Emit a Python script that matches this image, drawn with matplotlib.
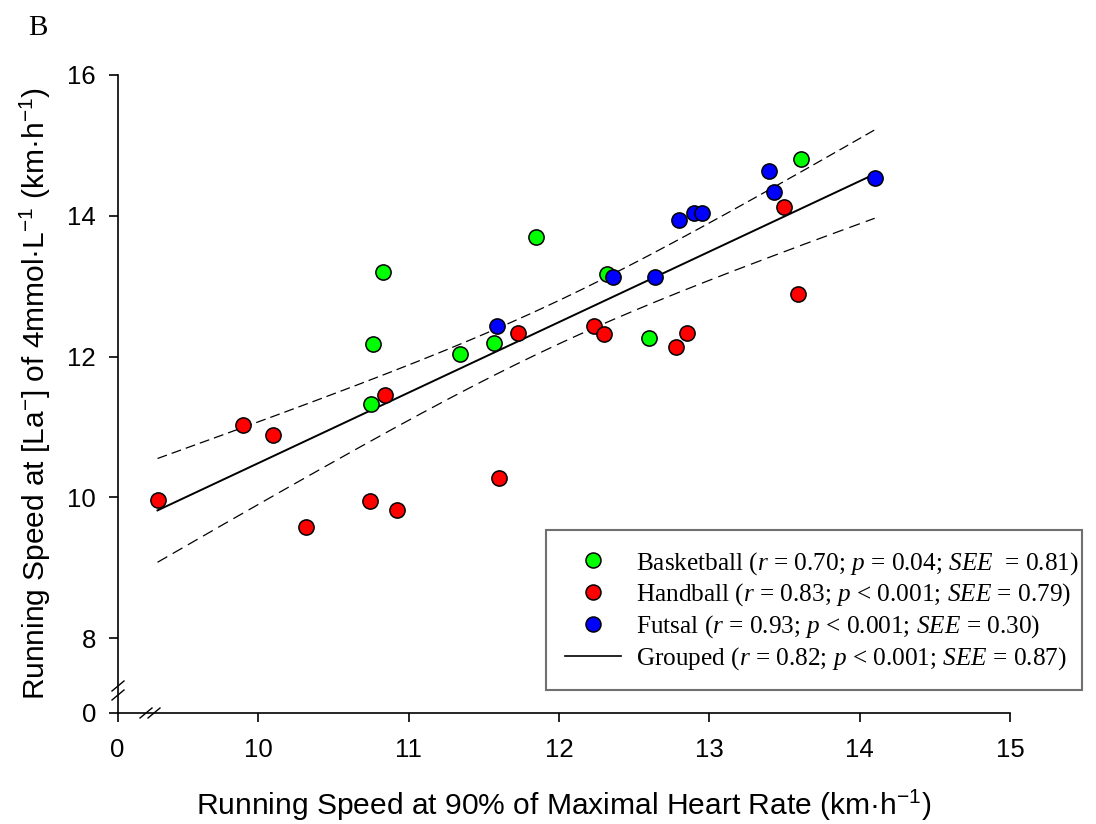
import numpy as np
import matplotlib
matplotlib.use("Agg")
import matplotlib.pyplot as plt
from matplotlib.lines import Line2D
from matplotlib.patches import Rectangle

# ---------------- data ----------------
basket_x = [13.61, 11.85, 10.83, 12.32, 10.76, 11.34, 11.57, 12.60, 10.75]
basket_y = [14.81, 13.70, 13.20, 13.18, 12.18, 12.03, 12.20, 12.27, 11.32]

hand_x = [9.90, 10.10, 9.33, 10.32, 10.74, 10.92, 10.84, 11.60, 11.73,
          12.23, 12.30, 12.78, 12.85, 13.50, 13.59]
hand_y = [11.03, 10.89, 9.97, 9.58, 9.95, 9.82, 11.46, 10.28, 12.34,
          12.44, 12.32, 12.13, 12.34, 14.13, 12.89]

futsal_x = [11.59, 12.36, 12.64, 12.80, 12.90, 12.95, 13.40, 13.43, 14.10]
futsal_y = [12.43, 13.13, 13.13, 13.94, 14.04, 14.04, 14.64, 14.34, 14.53]

x_ticks = [10, 11, 12, 13, 14, 15]
y_ticks = [8, 10, 12, 14, 16]

legend_labels = [
    r"Basketball ($r$ = 0.70; $p$ = 0.04; $SEE$  = 0.81)",
    r"Handball ($r$ = 0.83; $p$ < 0.001; $SEE$ = 0.79)",
    r"Futsal ($r$ = 0.93; $p$ < 0.001; $SEE$ = 0.30)",
    r"Grouped ($r$ = 0.82; $p$ < 0.001; $SEE$ = 0.87)",
]

# ---------------- style ----------------
plt.rcParams['mathtext.fontset'] = 'custom'
plt.rcParams['mathtext.rm'] = 'Liberation Serif'
plt.rcParams['mathtext.it'] = 'Liberation Serif:italic'
plt.rcParams['mathtext.bf'] = 'Liberation Serif:bold'

W, H = 1096, 824
fig = plt.figure(figsize=(W / 100, H / 100), dpi=100)

def fx(px):
    return px / W

def fy(py):
    return 1 - py / H

ax = fig.add_axes([fx(117.5), fy(712.7), fx(1010) - fx(117.5), fy(75) - fy(712.7)])

# broken-axis positions for the "0" ticks
x0_pos = 10 + (117.5 - 258.3) / 150.4
y0_pos = 16 - (712.7 - 75) / 70.4
ax.set_xlim(x0_pos, 15)
ax.set_ylim(y0_pos, 16)

# regression with 95% confidence band
all_x = np.array(basket_x + hand_x + futsal_x)
all_y = np.array(basket_y + hand_y + futsal_y)
n = len(all_x)
b1, b0 = np.polyfit(all_x, all_y, 1)
resid = all_y - (b0 + b1 * all_x)
s = np.sqrt(np.sum(resid ** 2) / (n - 2))
xbar = all_x.mean()
sxx = np.sum((all_x - xbar) ** 2)
t_crit = 2.04
xs = np.linspace(all_x.min(), all_x.max(), 200)
ys = b0 + b1 * xs
half = t_crit * s * np.sqrt(1 / n + (xs - xbar) ** 2 / sxx)

ax.plot(xs, ys, color='black', lw=1.4, zorder=2)
ax.plot(xs, ys + half, color='black', lw=0.9, dashes=(8, 4), zorder=2)
ax.plot(xs, ys - half, color='black', lw=0.9, dashes=(9, 5), zorder=2)

ms = 120
ax.scatter(basket_x, basket_y, s=ms, c='#00FF00', edgecolors='black', linewidths=1.1, zorder=3)
ax.scatter(hand_x, hand_y, s=ms, c='#FF0000', edgecolors='black', linewidths=1.1, zorder=3)
ax.scatter(futsal_x, futsal_y, s=ms, c='#0000FF', edgecolors='black', linewidths=1.1, zorder=3)

# axes styling
for side in ['top', 'right']:
    ax.spines[side].set_visible(False)
for side in ['left', 'bottom']:
    ax.spines[side].set_linewidth(1.2)

ax.set_xticks([x0_pos] + x_ticks)
ax.set_xticklabels(['0'] + [str(v) for v in x_ticks])
ax.set_yticks([y0_pos] + y_ticks)
ax.set_yticklabels(['0'] + [str(v) for v in y_ticks])
ax.tick_params(direction='out', length=6.5, width=1.2, labelsize=18.5)
ax.tick_params(axis='x', pad=12)
ax.tick_params(axis='y', pad=9)
for lab in ax.get_xticklabels() + ax.get_yticklabels():
    lab.set_family('Liberation Sans')

ax.set_xlabel(r"Running Speed at 90% of Maximal Heart Rate (km·h$\mathregular{^{-1}}$)",
              fontsize=21.6, family='Liberation Sans', labelpad=18)
ax.set_ylabel(r"Running Speed at [La$\mathregular{^{-}}$] of 4mmol·L$\mathregular{^{-1}}$ (km·h$\mathregular{^{-1}}$)",
              fontsize=21.5, family='Liberation Sans', labelpad=10)

# break marks
def slash(cx, cy, dx=6, dy=5):
    fig.add_artist(Line2D([fx(cx - dx), fx(cx + dx)], [fy(cy + dy), fy(cy - dy)],
                          color='black', lw=1.0))

slash(118, 686)
slash(118, 695)
slash(146, 713)
slash(154, 713)

# legend
mk = dict(marker='o', ls='none', markersize=10.8, markeredgecolor='black', markeredgewidth=1.1)
handles = [
    Line2D([], [], markerfacecolor='#00FF00', **mk),
    Line2D([], [], markerfacecolor='#FF0000', **mk),
    Line2D([], [], markerfacecolor='#0000FF', **mk),
    Line2D([], [], color='black', lw=1.2),
]
leg = fig.legend(handles, legend_labels, loc='center left',
                 bbox_to_anchor=(fx(565), fy(611)), bbox_transform=fig.transFigure,
                 prop={'family': 'Liberation Serif', 'size': 18.2},
                 frameon=False, borderaxespad=0, borderpad=0,
                 handlelength=2.2, handletextpad=0.6, labelspacing=0.2)
fig.add_artist(Rectangle((fx(546), fy(690)), fx(1082) - fx(546), fy(530) - fy(690),
                         transform=fig.transFigure, fill=False,
                         edgecolor='#707070', linewidth=1.5))

fig.text(fx(28), fy(35), 'B', family='Liberation Serif', fontsize=21)

fig.savefig('out.png', dpi=100)
